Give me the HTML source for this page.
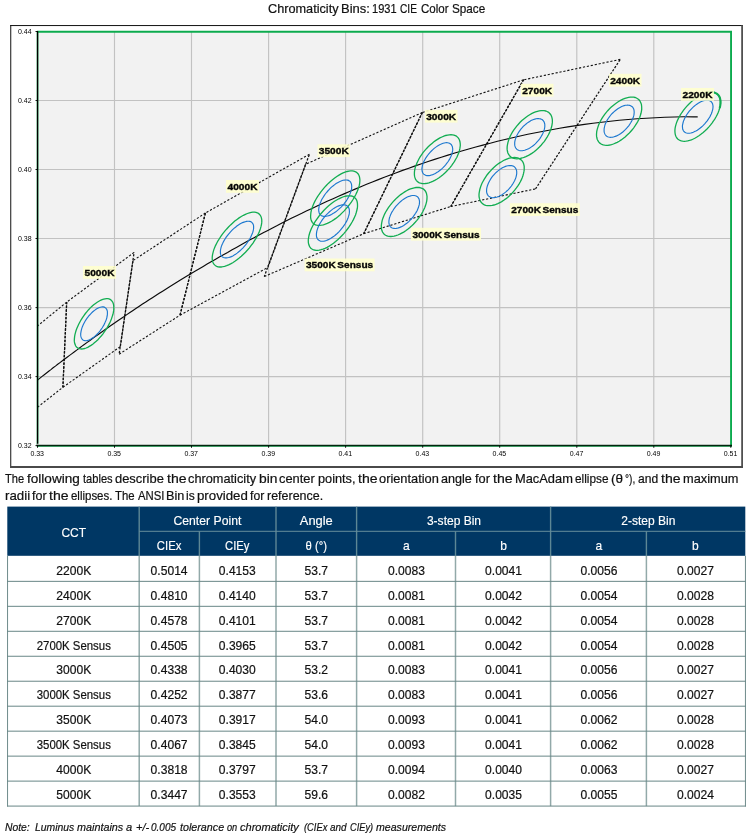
<!DOCTYPE html>
<html><head><meta charset="utf-8"><title>Chromaticity Bins</title>
<style>
html,body{margin:0;padding:0;background:#fff}
body{width:750px;height:834px;position:relative;overflow:hidden;font-family:"Liberation Sans",Arial,sans-serif;color:#1a1a1a}
.t{position:absolute;white-space:nowrap;transform-origin:0 0;display:block;color:#111;-webkit-text-stroke:0.2px #111}
.title{left:0;top:1px;width:750px;height:16px;font-size:12.4px;line-height:16px}
.t span{position:absolute;top:0;transform-origin:0 0;display:block}
.p1{left:0;top:470.6px;width:750px;height:17px;font-size:12.4px;line-height:17px}
.p2{left:0;top:488.4px;width:750px;height:17px;font-size:12.4px;line-height:17px}
.note{left:0;top:819.3px;width:750px;height:16px;font-size:11.4px;line-height:16px;font-style:italic}
.c{position:absolute;text-align:center;white-space:nowrap;font-size:12.4px}
.c.h{color:#fff;transform:scaleX(0.97);-webkit-text-stroke:0.15px #fff}
.c.b{color:#111;-webkit-text-stroke:0.2px #111;transform:scaleX(0.975)}
.c.s{transform:scaleX(0.92)}
.hbg{position:absolute;background:#003764}
.hv{position:absolute;width:1.5px;background:#55808f}
.hh{position:absolute;height:1px;background:#5f8795}
.bv{position:absolute;width:1.5px;background:#8fa7a7}
.bo{position:absolute;width:1px;background:#6f8b8b}
.bh{position:absolute;height:1px;background:#6f8b8b}
</style></head><body>
<div class="t title" id="title"><span style="left:268.09px;transform:scaleX(1.025)">Chromaticity</span> <span style="left:341.35px;transform:scaleX(1.047)">Bins:</span> <span style="left:371.73px;transform:scaleX(0.891)">1931</span> <span style="left:400.49px;transform:scaleX(0.820)">CIE</span> <span style="left:420.53px;transform:scaleX(0.931)">Color</span> <span style="left:452.03px;transform:scaleX(0.946)">Space</span></div>
<svg width="750" height="475" viewBox="0 0 750 475" style="position:absolute;left:0;top:0">
<style>
.ax{font:7px "Liberation Sans",Arial,sans-serif;fill:#000}
.lb{font:bold 9.7px "Liberation Sans",Arial,sans-serif;fill:#050505;stroke:#050505;stroke-width:0.35;word-spacing:-1.2px}
.g{stroke:#c2c2c2;stroke-width:1.15}
.d{stroke:#111;stroke-width:1.1;stroke-dasharray:2.2 1.8;fill:none}
.ds{stroke:#111;stroke-width:1.25;stroke-dasharray:2.3 1.5;fill:none}
.e3{stroke:#12ad52;stroke-width:1.3;fill:none}
.e2{stroke:#1c78cf;stroke-width:1.15;fill:none}
</style>
<line x1="10.2" y1="25.55" x2="743" y2="25.55" stroke="#111" stroke-width="1"/>
<line x1="10.75" y1="25.1" x2="10.75" y2="468" stroke="#111" stroke-width="1"/>
<line x1="742.1" y1="25.2" x2="742.1" y2="468" stroke="#505050" stroke-width="1.8"/>
<line x1="10.2" y1="467.05" x2="743" y2="467.05" stroke="#4a4a4a" stroke-width="1.9"/>
<rect x="37.5" y="31.5" width="693.4" height="414.2" fill="#f2f2f2"/>
<line class="g" x1="114.5" y1="31.5" x2="114.5" y2="445.6"/>
<line class="g" x1="191.5" y1="31.5" x2="191.5" y2="445.6"/>
<line class="g" x1="268.6" y1="31.5" x2="268.6" y2="445.6"/>
<line class="g" x1="345.6" y1="31.5" x2="345.6" y2="445.6"/>
<line class="g" x1="422.7" y1="31.5" x2="422.7" y2="445.6"/>
<line class="g" x1="499.7" y1="31.5" x2="499.7" y2="445.6"/>
<line class="g" x1="576.8" y1="31.5" x2="576.8" y2="445.6"/>
<line class="g" x1="653.8" y1="31.5" x2="653.8" y2="445.6"/>
<line class="g" x1="37.5" y1="376.6" x2="730.8" y2="376.6"/>
<line class="g" x1="37.5" y1="307.6" x2="730.8" y2="307.6"/>
<line class="g" x1="37.5" y1="238.5" x2="730.8" y2="238.5"/>
<line class="g" x1="37.5" y1="169.5" x2="730.8" y2="169.5"/>
<line class="g" x1="37.5" y1="100.5" x2="730.8" y2="100.5"/>
<line class="d" x1="620.3" y1="59.4" x2="523.6" y2="79.8"/>
<line class="d" x1="450.8" y1="206.5" x2="535.5" y2="188.9"/>
<line class="ds" x1="523.6" y1="79.8" x2="450.8" y2="206.5"/>
<line class="ds" x1="535.5" y1="188.9" x2="620.3" y2="59.4"/>
<line class="d" x1="523.6" y1="79.8" x2="422.3" y2="112.6"/>
<line class="d" x1="363.7" y1="233.7" x2="450.8" y2="206.5"/>
<line class="ds" x1="422.3" y1="112.6" x2="363.7" y2="233.7"/>
<line class="ds" x1="450.8" y1="206.5" x2="523.6" y2="79.8"/>
<line class="d" x1="422.3" y1="112.6" x2="305.6" y2="164.3"/>
<line class="d" x1="264.3" y1="276.5" x2="363.7" y2="233.7"/>
<line class="ds" x1="305.6" y1="164.3" x2="264.3" y2="276.5"/>
<line class="ds" x1="363.7" y1="233.7" x2="422.3" y2="112.6"/>
<line class="d" x1="309.4" y1="154.3" x2="205.4" y2="213.0"/>
<line class="d" x1="180.0" y1="315.2" x2="267.8" y2="267.5"/>
<line class="ds" x1="205.4" y1="213.0" x2="180.0" y2="315.2"/>
<line class="ds" x1="267.8" y1="267.5" x2="309.4" y2="154.3"/>
<line class="d" x1="205.4" y1="213.0" x2="133.0" y2="260.6"/>
<line class="d" x1="119.1" y1="354.2" x2="180.0" y2="315.2"/>
<line class="ds" x1="133.0" y1="260.6" x2="119.1" y2="354.2"/>
<line class="ds" x1="180.0" y1="315.2" x2="205.4" y2="213.0"/>
<line class="d" x1="134.1" y1="252.4" x2="66.7" y2="302.1"/>
<line class="d" x1="62.9" y1="387.3" x2="120.3" y2="346.6"/>
<line class="ds" x1="66.7" y1="302.1" x2="62.9" y2="387.3"/>
<line class="ds" x1="120.3" y1="346.6" x2="134.1" y2="252.4"/>
<line class="d" x1="66.7" y1="302.1" x2="37.5" y2="326.0"/>
<line class="d" x1="37.5" y1="407.2" x2="62.9" y2="387.3"/>

<line class="ds" x1="62.9" y1="387.3" x2="66.7" y2="302.1"/>
<path d="M37.5 380.1 L37.9 379.8 L40.0 378.1 L42.1 376.4 L44.3 374.7 L46.5 373.0 L48.7 371.3 L50.9 369.6 L53.1 367.8 L55.4 366.1 L57.7 364.3 L60.0 362.6 L62.4 360.8 L64.7 359.0 L67.1 357.2 L69.6 355.4 L72.0 353.6 L74.5 351.7 L77.0 349.9 L79.5 348.0 L82.0 346.1 L84.6 344.3 L87.2 342.4 L89.9 340.5 L92.5 338.5 L95.2 336.6 L97.9 334.7 L100.7 332.7 L103.5 330.8 L106.3 328.8 L109.1 326.8 L112.0 324.8 L114.9 322.8 L117.8 320.7 L120.8 318.7 L123.8 316.7 L126.8 314.6 L129.9 312.5 L133.0 310.4 L136.2 308.3 L139.3 306.2 L142.5 304.1 L145.8 302.0 L149.1 299.8 L152.4 297.7 L155.8 295.5 L159.2 293.3 L162.6 291.2 L166.1 289.0 L169.6 286.7 L173.2 284.5 L176.8 282.3 L180.4 280.0 L184.1 277.8 L187.8 275.5 L191.6 273.3 L195.4 271.0 L199.3 268.7 L203.2 266.4 L207.1 264.1 L211.1 261.7 L215.2 259.4 L219.3 257.1 L223.4 254.7 L227.6 252.4 L232.1 249.8 L236.4 247.4 L240.7 245.0 L245.1 242.6 L249.6 240.1 L254.1 237.7 L258.6 235.3 L263.2 232.8 L267.8 230.4 L272.5 227.9 L277.3 225.5 L282.0 223.0 L286.9 220.6 L291.8 218.1 L296.7 215.7 L301.8 213.3 L306.8 210.8 L312.0 208.4 L317.1 206.0 L322.4 203.5 L327.7 201.1 L333.1 198.7 L338.5 196.3 L344.0 193.9 L349.5 191.5 L355.1 189.1 L360.8 186.7 L366.6 184.3 L372.4 182.0 L378.3 179.6 L384.3 177.3 L390.3 175.0 L396.4 172.7 L402.6 170.4 L408.8 168.2 L415.2 165.9 L421.6 163.7 L428.1 161.5 L434.6 159.4 L441.3 157.2 L448.0 155.1 L454.8 153.0 L461.7 151.0 L468.7 149.0 L475.8 147.0 L482.9 145.1 L490.2 143.2 L497.5 141.3 L504.9 139.5 L512.5 137.7 L520.1 136.0 L527.8 134.3 L535.6 132.7 L543.5 131.2 L551.5 129.7 L559.6 128.3 L567.8 126.9 L576.1 125.6 L584.5 124.4 L593.0 123.2 L601.6 122.2 L610.4 121.2 L619.2 120.3 L628.1 119.5 L637.2 118.8 L646.3 118.2 L655.5 117.7 L664.9 117.3 L674.4 117.0 L683.9 116.8 L693.6 116.8 L697.7 116.8" fill="none" stroke="#0a0a0a" stroke-width="1.15"/>
<path d="M719.8 107.5 L720.0 106.7 L720.2 105.9 L720.3 105.2 L720.4 104.4 L720.5 103.7 L720.5 103.0 L720.5 102.3 L720.5 101.6 L720.5 100.9 L720.4 100.3 L720.3 99.6 L720.2 99.0 L720.0 98.5 L719.9 97.9 L719.6 97.3 L719.4 96.8 L719.2 96.3 L718.9 95.9 L718.6 95.4 L718.2 95.0 L717.9 94.6 L717.5 94.3 L717.1 93.9 L716.6 93.6 L716.2 93.4 L715.7 93.1 L715.2 92.9 L714.7 92.7 L714.1 92.5 L713.6 92.4 L713.0 92.3 L712.4 92.2 L711.8 92.2 L711.1 92.2 L710.5 92.2 L709.8 92.2 L709.1 92.3 L708.4 92.4 L707.7 92.5 L707.0 92.7 L706.3 92.9" fill="none" stroke="#12ad52" stroke-width="2.1" stroke-linecap="round"/>
<path class="e3" d="M716.6 93.6 L715.5 93.0 L714.1 92.5 L712.7 92.2 L711.1 92.2 L709.5 92.3 L707.7 92.5 L705.9 93.0 L704.0 93.6 L702.1 94.5 L700.1 95.5 L698.1 96.6 L696.2 97.9 L694.2 99.4 L692.2 100.9 L690.3 102.7 L688.5 104.5 L686.7 106.4 L685.0 108.3 L683.4 110.4 L681.9 112.5 L680.5 114.6 L679.3 116.7 L678.2 118.9 L677.2 121.0 L676.4 123.1 L675.8 125.1 L675.3 127.1 L675.0 129.0 L674.9 130.8 L675.0 132.5 L675.2 134.1 L675.6 135.5 L676.1 136.8 L676.9 138.0 L677.7 139.0 L678.8 139.8 L680.0 140.4 L681.3 140.9 L682.7 141.2 L684.3 141.3 L685.9 141.2 L687.7 140.9 L689.5 140.4 L691.4 139.8 L693.3 139.0 L695.3 138.0 L697.3 136.8 L699.3 135.5 L701.2 134.1 L703.2 132.5 L705.1 130.8 L707.0 129.0 L708.7 127.1 L710.4 125.1 L712.0 123.1 L713.5 121.0 L714.9 118.8 L716.1 116.7 L717.2 114.6 L718.2 112.4 L719.0 110.3 L719.6 108.3 L720.1 106.3 L720.4 104.4 L720.5 102.6 L720.5 100.9 L720.2 99.3 L719.9 97.9 L719.3 96.6 L718.6 95.4 L717.7 94.4Z"/>
<path class="e2" d="M710.5 101.1 L709.7 100.7 L708.8 100.4 L707.9 100.2 L706.8 100.2 L705.7 100.3 L704.6 100.5 L703.4 100.8 L702.1 101.2 L700.8 101.8 L699.5 102.5 L698.2 103.3 L696.8 104.2 L695.5 105.1 L694.2 106.2 L692.9 107.4 L691.7 108.6 L690.5 109.9 L689.3 111.2 L688.2 112.6 L687.2 114.0 L686.3 115.4 L685.5 116.9 L684.7 118.3 L684.1 119.7 L683.5 121.1 L683.1 122.5 L682.8 123.8 L682.5 125.1 L682.4 126.3 L682.5 127.4 L682.6 128.5 L682.8 129.5 L683.2 130.3 L683.7 131.1 L684.3 131.8 L684.9 132.3 L685.7 132.7 L686.6 133.0 L687.5 133.2 L688.6 133.2 L689.7 133.2 L690.8 133.0 L692.1 132.6 L693.3 132.2 L694.6 131.6 L695.9 131.0 L697.3 130.2 L698.6 129.3 L699.9 128.3 L701.2 127.2 L702.5 126.1 L703.7 124.9 L704.9 123.6 L706.1 122.2 L707.2 120.9 L708.2 119.4 L709.1 118.0 L710.0 116.6 L710.7 115.1 L711.4 113.7 L711.9 112.3 L712.3 110.9 L712.7 109.6 L712.9 108.3 L713.0 107.1 L713.0 106.0 L712.8 104.9 L712.6 104.0 L712.2 103.1 L711.7 102.3 L711.2 101.7Z"/>
<path class="e3" d="M637.6 98.7 L636.4 98.0 L635.1 97.5 L633.6 97.2 L632.0 97.1 L630.4 97.2 L628.6 97.4 L626.8 97.8 L624.9 98.4 L623.0 99.2 L621.0 100.1 L619.0 101.3 L617.1 102.5 L615.1 103.9 L613.2 105.4 L611.3 107.1 L609.5 108.8 L607.7 110.7 L606.1 112.6 L604.5 114.6 L603.1 116.7 L601.8 118.7 L600.6 120.8 L599.5 122.9 L598.6 125.0 L597.9 127.1 L597.3 129.1 L596.8 131.1 L596.6 132.9 L596.5 134.7 L596.6 136.4 L596.9 138.0 L597.3 139.4 L597.9 140.7 L598.7 141.9 L599.6 142.9 L600.7 143.7 L601.9 144.4 L603.2 144.9 L604.7 145.2 L606.2 145.3 L607.9 145.3 L609.7 145.0 L611.5 144.6 L613.4 144.0 L615.3 143.2 L617.2 142.3 L619.2 141.2 L621.2 139.9 L623.1 138.5 L625.1 137.0 L626.9 135.3 L628.8 133.6 L630.5 131.7 L632.2 129.8 L633.7 127.8 L635.2 125.7 L636.5 123.7 L637.7 121.6 L638.8 119.5 L639.7 117.4 L640.4 115.3 L641.0 113.3 L641.4 111.3 L641.7 109.5 L641.7 107.7 L641.6 106.0 L641.4 104.4 L640.9 103.0 L640.3 101.7 L639.6 100.5 L638.7 99.5Z"/>
<path class="e2" d="M631.4 106.2 L630.6 105.7 L629.7 105.4 L628.8 105.2 L627.7 105.1 L626.6 105.2 L625.4 105.3 L624.2 105.6 L623.0 106.0 L621.7 106.5 L620.4 107.2 L619.1 107.9 L617.8 108.7 L616.5 109.7 L615.2 110.7 L613.9 111.8 L612.7 113.0 L611.5 114.2 L610.4 115.5 L609.4 116.8 L608.4 118.2 L607.5 119.6 L606.7 121.0 L606.0 122.4 L605.4 123.8 L604.9 125.1 L604.6 126.5 L604.3 127.8 L604.1 129.0 L604.1 130.2 L604.1 131.4 L604.3 132.4 L604.6 133.4 L605.0 134.2 L605.5 135.0 L606.1 135.7 L606.8 136.2 L607.6 136.7 L608.5 137.0 L609.5 137.2 L610.5 137.3 L611.6 137.2 L612.8 137.1 L614.0 136.8 L615.3 136.4 L616.6 135.9 L617.9 135.2 L619.2 134.5 L620.5 133.7 L621.8 132.7 L623.1 131.7 L624.3 130.6 L625.6 129.4 L626.7 128.2 L627.8 126.9 L628.9 125.6 L629.8 124.2 L630.7 122.8 L631.5 121.4 L632.2 120.0 L632.8 118.6 L633.3 117.3 L633.7 115.9 L634.0 114.6 L634.1 113.4 L634.2 112.2 L634.1 111.1 L634.0 110.0 L633.7 109.0 L633.3 108.2 L632.8 107.4 L632.2 106.7Z"/>
<path class="e3" d="M548.2 112.1 L547.0 111.5 L545.7 111.0 L544.2 110.7 L542.7 110.6 L541.0 110.6 L539.2 110.9 L537.4 111.3 L535.5 111.9 L533.6 112.7 L531.6 113.6 L529.7 114.7 L527.7 116.0 L525.7 117.4 L523.8 118.9 L521.9 120.5 L520.1 122.3 L518.4 124.2 L516.7 126.1 L515.2 128.1 L513.7 130.1 L512.4 132.2 L511.2 134.3 L510.1 136.4 L509.2 138.5 L508.5 140.6 L507.9 142.6 L507.5 144.5 L507.2 146.4 L507.1 148.2 L507.2 149.9 L507.5 151.5 L507.9 152.9 L508.5 154.2 L509.3 155.4 L510.2 156.4 L511.3 157.2 L512.5 157.9 L513.8 158.3 L515.3 158.6 L516.9 158.8 L518.5 158.7 L520.3 158.5 L522.1 158.0 L524.0 157.4 L525.9 156.7 L527.9 155.7 L529.8 154.6 L531.8 153.4 L533.8 152.0 L535.7 150.4 L537.6 148.8 L539.4 147.0 L541.1 145.2 L542.8 143.2 L544.4 141.3 L545.8 139.2 L547.1 137.1 L548.3 135.0 L549.4 132.9 L550.3 130.8 L551.0 128.8 L551.6 126.8 L552.0 124.8 L552.3 122.9 L552.4 121.1 L552.3 119.4 L552.0 117.9 L551.6 116.4 L551.0 115.1 L550.2 114.0 L549.3 113.0Z"/>
<path class="e2" d="M542.1 119.6 L541.3 119.2 L540.4 118.9 L539.4 118.7 L538.4 118.6 L537.2 118.6 L536.1 118.8 L534.9 119.1 L533.6 119.5 L532.3 120.0 L531.0 120.6 L529.7 121.4 L528.4 122.2 L527.1 123.1 L525.8 124.2 L524.6 125.3 L523.3 126.4 L522.2 127.7 L521.1 128.9 L520.0 130.3 L519.1 131.6 L518.2 133.0 L517.4 134.4 L516.7 135.8 L516.1 137.2 L515.6 138.6 L515.2 139.9 L514.9 141.2 L514.7 142.5 L514.7 143.7 L514.7 144.8 L514.9 145.9 L515.2 146.8 L515.6 147.7 L516.1 148.5 L516.7 149.1 L517.4 149.7 L518.2 150.1 L519.1 150.5 L520.1 150.7 L521.2 150.7 L522.3 150.7 L523.4 150.5 L524.7 150.3 L525.9 149.8 L527.2 149.3 L528.5 148.7 L529.8 148.0 L531.1 147.1 L532.4 146.2 L533.7 145.2 L535.0 144.1 L536.2 142.9 L537.3 141.7 L538.5 140.4 L539.5 139.1 L540.5 137.7 L541.3 136.3 L542.1 134.9 L542.8 133.5 L543.4 132.1 L543.9 130.7 L544.3 129.4 L544.6 128.1 L544.8 126.8 L544.8 125.6 L544.8 124.5 L544.6 123.5 L544.3 122.5 L543.9 121.6 L543.4 120.9 L542.8 120.2Z"/>
<path class="e3" d="M520.1 159.1 L518.9 158.4 L517.6 157.9 L516.1 157.6 L514.5 157.5 L512.9 157.6 L511.1 157.8 L509.3 158.2 L507.4 158.8 L505.5 159.6 L503.5 160.5 L501.6 161.7 L499.6 162.9 L497.6 164.3 L495.7 165.8 L493.8 167.5 L492.0 169.2 L490.3 171.1 L488.6 173.0 L487.0 175.0 L485.6 177.1 L484.3 179.1 L483.1 181.2 L482.0 183.3 L481.1 185.4 L480.4 187.5 L479.8 189.5 L479.4 191.5 L479.1 193.3 L479.0 195.1 L479.1 196.8 L479.4 198.4 L479.8 199.8 L480.4 201.1 L481.2 202.3 L482.1 203.3 L483.2 204.1 L484.4 204.8 L485.7 205.3 L487.2 205.6 L488.7 205.7 L490.4 205.6 L492.2 205.4 L494.0 205.0 L495.9 204.4 L497.8 203.6 L499.8 202.7 L501.7 201.6 L503.7 200.3 L505.7 198.9 L507.6 197.4 L509.5 195.7 L511.3 194.0 L513.0 192.1 L514.7 190.2 L516.2 188.2 L517.7 186.1 L519.0 184.1 L520.2 182.0 L521.3 179.9 L522.2 177.8 L522.9 175.7 L523.5 173.7 L523.9 171.7 L524.2 169.9 L524.2 168.1 L524.2 166.4 L523.9 164.8 L523.5 163.4 L522.9 162.1 L522.1 160.9 L521.2 159.9Z"/>
<path class="e2" d="M514.0 166.6 L513.1 166.1 L512.3 165.8 L511.3 165.6 L510.2 165.5 L509.1 165.6 L508.0 165.7 L506.7 166.0 L505.5 166.4 L504.2 166.9 L502.9 167.6 L501.6 168.3 L500.3 169.1 L499.0 170.1 L497.7 171.1 L496.4 172.2 L495.2 173.4 L494.1 174.6 L492.9 175.9 L491.9 177.2 L490.9 178.6 L490.1 180.0 L489.3 181.4 L488.6 182.8 L488.0 184.2 L487.5 185.5 L487.1 186.9 L486.8 188.2 L486.6 189.4 L486.6 190.6 L486.6 191.8 L486.8 192.8 L487.1 193.8 L487.5 194.6 L488.0 195.4 L488.6 196.1 L489.3 196.6 L490.1 197.1 L491.0 197.4 L492.0 197.6 L493.0 197.7 L494.2 197.6 L495.3 197.5 L496.5 197.2 L497.8 196.8 L499.1 196.3 L500.4 195.6 L501.7 194.9 L503.0 194.1 L504.3 193.1 L505.6 192.1 L506.8 191.0 L508.1 189.8 L509.2 188.6 L510.3 187.3 L511.4 186.0 L512.3 184.6 L513.2 183.2 L514.0 181.8 L514.7 180.4 L515.3 179.0 L515.8 177.7 L516.2 176.3 L516.5 175.0 L516.7 173.8 L516.7 172.6 L516.7 171.5 L516.5 170.4 L516.2 169.4 L515.8 168.6 L515.3 167.8 L514.7 167.1Z"/>
<path class="e3" d="M456.5 136.2 L455.3 135.6 L454.0 135.1 L452.5 134.8 L451.0 134.7 L449.3 134.8 L447.6 135.1 L445.7 135.5 L443.9 136.1 L441.9 137.0 L439.9 137.9 L437.9 139.1 L435.9 140.4 L433.9 141.8 L432.0 143.4 L430.1 145.0 L428.2 146.8 L426.4 148.7 L424.7 150.7 L423.0 152.7 L421.5 154.8 L420.1 156.9 L418.9 159.0 L417.8 161.2 L416.8 163.3 L416.0 165.4 L415.3 167.4 L414.8 169.4 L414.5 171.3 L414.4 173.1 L414.4 174.8 L414.6 176.4 L415.0 177.8 L415.5 179.1 L416.3 180.3 L417.1 181.3 L418.2 182.1 L419.3 182.8 L420.6 183.2 L422.1 183.5 L423.6 183.6 L425.3 183.5 L427.0 183.3 L428.9 182.8 L430.8 182.2 L432.7 181.4 L434.7 180.4 L436.7 179.3 L438.7 178.0 L440.7 176.5 L442.6 175.0 L444.6 173.3 L446.4 171.5 L448.2 169.6 L450.0 167.6 L451.6 165.6 L453.1 163.5 L454.5 161.4 L455.7 159.3 L456.9 157.2 L457.8 155.0 L458.7 153.0 L459.3 150.9 L459.8 148.9 L460.1 147.0 L460.3 145.2 L460.2 143.5 L460.0 142.0 L459.6 140.5 L459.1 139.2 L458.4 138.1 L457.5 137.1Z"/>
<path class="e2" d="M450.2 143.7 L449.5 143.3 L448.6 143.0 L447.6 142.8 L446.6 142.7 L445.5 142.8 L444.3 143.0 L443.1 143.3 L441.9 143.7 L440.6 144.3 L439.2 144.9 L437.9 145.7 L436.6 146.6 L435.2 147.6 L433.9 148.6 L432.6 149.8 L431.4 151.0 L430.1 152.3 L429.0 153.6 L427.9 155.0 L426.9 156.4 L425.9 157.8 L425.1 159.2 L424.3 160.7 L423.6 162.1 L423.1 163.5 L422.6 164.8 L422.3 166.2 L422.1 167.4 L421.9 168.6 L422.0 169.8 L422.1 170.8 L422.3 171.8 L422.7 172.7 L423.1 173.4 L423.7 174.1 L424.4 174.6 L425.2 175.1 L426.0 175.4 L427.0 175.6 L428.0 175.6 L429.1 175.6 L430.3 175.4 L431.5 175.0 L432.8 174.6 L434.1 174.1 L435.4 173.4 L436.7 172.6 L438.1 171.7 L439.4 170.8 L440.7 169.7 L442.0 168.6 L443.3 167.4 L444.5 166.1 L445.6 164.8 L446.7 163.4 L447.8 162.0 L448.7 160.6 L449.6 159.1 L450.3 157.7 L451.0 156.3 L451.5 154.9 L452.0 153.5 L452.3 152.2 L452.6 150.9 L452.7 149.7 L452.7 148.6 L452.5 147.5 L452.3 146.5 L451.9 145.7 L451.5 144.9 L450.9 144.2Z"/>
<path class="e3" d="M423.2 188.9 L422.0 188.3 L420.7 187.8 L419.2 187.5 L417.7 187.4 L416.0 187.5 L414.3 187.8 L412.4 188.3 L410.5 188.9 L408.6 189.7 L406.6 190.7 L404.7 191.9 L402.7 193.2 L400.7 194.6 L398.7 196.2 L396.8 197.9 L395.0 199.7 L393.2 201.6 L391.5 203.6 L389.9 205.6 L388.4 207.7 L387.0 209.8 L385.7 212.0 L384.6 214.1 L383.7 216.2 L382.9 218.3 L382.2 220.4 L381.8 222.3 L381.5 224.2 L381.3 226.0 L381.4 227.7 L381.6 229.3 L382.0 230.8 L382.6 232.1 L383.3 233.2 L384.2 234.2 L385.2 235.0 L386.4 235.7 L387.7 236.1 L389.1 236.4 L390.7 236.5 L392.4 236.4 L394.1 236.1 L395.9 235.7 L397.8 235.0 L399.8 234.2 L401.7 233.2 L403.7 232.1 L405.7 230.8 L407.7 229.3 L409.6 227.8 L411.5 226.1 L413.4 224.2 L415.2 222.3 L416.9 220.4 L418.5 218.3 L420.0 216.2 L421.4 214.1 L422.6 212.0 L423.7 209.8 L424.7 207.7 L425.5 205.6 L426.1 203.6 L426.6 201.6 L426.9 199.7 L427.0 197.9 L427.0 196.2 L426.7 194.6 L426.4 193.2 L425.8 191.9 L425.1 190.7 L424.2 189.7Z"/>
<path class="e2" d="M417.0 196.4 L416.2 196.0 L415.3 195.7 L414.4 195.5 L413.3 195.5 L412.2 195.5 L411.1 195.7 L409.9 196.1 L408.6 196.5 L407.3 197.1 L406.0 197.7 L404.7 198.5 L403.3 199.4 L402.0 200.4 L400.7 201.5 L399.4 202.6 L398.2 203.8 L397.0 205.1 L395.8 206.4 L394.7 207.8 L393.7 209.2 L392.8 210.7 L391.9 212.1 L391.2 213.5 L390.5 215.0 L390.0 216.4 L389.5 217.7 L389.2 219.1 L389.0 220.3 L388.9 221.5 L388.9 222.7 L389.0 223.7 L389.3 224.7 L389.6 225.6 L390.1 226.3 L390.7 227.0 L391.4 227.5 L392.2 228.0 L393.0 228.3 L394.0 228.4 L395.0 228.5 L396.1 228.4 L397.3 228.2 L398.5 227.9 L399.8 227.4 L401.0 226.9 L402.4 226.2 L403.7 225.4 L405.0 224.5 L406.4 223.6 L407.7 222.5 L409.0 221.3 L410.2 220.1 L411.4 218.8 L412.6 217.5 L413.6 216.1 L414.6 214.7 L415.6 213.3 L416.4 211.9 L417.2 210.4 L417.8 209.0 L418.4 207.6 L418.8 206.2 L419.2 204.9 L419.4 203.6 L419.5 202.4 L419.5 201.3 L419.3 200.2 L419.1 199.2 L418.7 198.4 L418.2 197.6 L417.7 197.0Z"/>
<path class="e3" d="M356.3 172.2 L355.1 171.6 L353.7 171.2 L352.3 170.9 L350.6 170.9 L348.9 171.1 L347.1 171.5 L345.1 172.1 L343.1 172.9 L341.1 173.9 L339.0 175.1 L336.8 176.5 L334.7 178.0 L332.5 179.7 L330.4 181.5 L328.3 183.4 L326.3 185.5 L324.3 187.6 L322.5 189.9 L320.7 192.1 L319.0 194.5 L317.4 196.9 L316.0 199.2 L314.7 201.6 L313.6 203.9 L312.7 206.3 L311.9 208.5 L311.3 210.6 L310.9 212.7 L310.7 214.7 L310.6 216.5 L310.7 218.2 L311.1 219.7 L311.6 221.1 L312.3 222.3 L313.1 223.3 L314.2 224.1 L315.4 224.8 L316.7 225.2 L318.2 225.4 L319.8 225.4 L321.5 225.2 L323.4 224.8 L325.3 224.2 L327.3 223.4 L329.4 222.4 L331.5 221.2 L333.6 219.9 L335.8 218.4 L337.9 216.7 L340.0 214.9 L342.1 212.9 L344.2 210.9 L346.1 208.7 L348.0 206.5 L349.8 204.2 L351.5 201.9 L353.0 199.5 L354.4 197.1 L355.7 194.7 L356.8 192.4 L357.8 190.1 L358.6 187.8 L359.2 185.7 L359.6 183.6 L359.8 181.7 L359.9 179.8 L359.7 178.2 L359.4 176.6 L358.9 175.2 L358.2 174.0 L357.3 173.0Z"/>
<path class="e2" d="M349.3 180.9 L348.5 180.4 L347.5 180.1 L346.5 180.0 L345.4 180.0 L344.3 180.1 L343.0 180.3 L341.7 180.7 L340.4 181.3 L339.0 181.9 L337.6 182.7 L336.1 183.6 L334.7 184.6 L333.3 185.7 L331.8 186.9 L330.4 188.2 L329.1 189.6 L327.8 191.0 L326.5 192.5 L325.3 194.0 L324.2 195.6 L323.2 197.2 L322.2 198.8 L321.4 200.3 L320.7 201.9 L320.0 203.4 L319.5 204.9 L319.1 206.4 L318.9 207.8 L318.7 209.1 L318.7 210.3 L318.8 211.5 L319.1 212.5 L319.4 213.4 L319.9 214.2 L320.5 214.9 L321.2 215.5 L322.0 215.9 L322.9 216.2 L323.9 216.4 L325.0 216.4 L326.2 216.3 L327.4 216.0 L328.7 215.6 L330.1 215.1 L331.5 214.4 L332.9 213.6 L334.3 212.8 L335.8 211.7 L337.2 210.6 L338.6 209.4 L340.0 208.1 L341.4 206.8 L342.7 205.3 L344.0 203.8 L345.1 202.3 L346.3 200.8 L347.3 199.2 L348.2 197.6 L349.1 196.0 L349.8 194.4 L350.4 192.9 L350.9 191.4 L351.3 189.9 L351.6 188.6 L351.7 187.2 L351.7 186.0 L351.6 184.9 L351.4 183.8 L351.0 182.9 L350.6 182.1 L350.0 181.4Z"/>
<path class="e3" d="M354.0 197.1 L352.8 196.4 L351.4 196.0 L349.9 195.8 L348.3 195.8 L346.6 196.0 L344.8 196.4 L342.8 197.0 L340.8 197.8 L338.8 198.8 L336.7 200.0 L334.5 201.3 L332.4 202.8 L330.2 204.5 L328.1 206.3 L326.0 208.3 L324.0 210.3 L322.0 212.5 L320.1 214.7 L318.4 217.0 L316.7 219.3 L315.1 221.7 L313.7 224.1 L312.4 226.5 L311.3 228.8 L310.4 231.1 L309.6 233.3 L309.0 235.5 L308.6 237.6 L308.3 239.5 L308.3 241.3 L308.4 243.0 L308.8 244.6 L309.3 245.9 L310.0 247.1 L310.8 248.2 L311.9 249.0 L313.1 249.6 L314.4 250.0 L315.9 250.3 L317.5 250.3 L319.2 250.1 L321.1 249.7 L323.0 249.1 L325.0 248.3 L327.1 247.3 L329.2 246.1 L331.3 244.7 L333.5 243.2 L335.6 241.5 L337.7 239.7 L339.8 237.8 L341.8 235.7 L343.8 233.6 L345.7 231.3 L347.5 229.0 L349.2 226.7 L350.7 224.3 L352.1 222.0 L353.4 219.6 L354.5 217.2 L355.5 214.9 L356.2 212.7 L356.8 210.5 L357.3 208.5 L357.5 206.5 L357.5 204.7 L357.4 203.0 L357.1 201.5 L356.6 200.1 L355.9 198.9 L355.0 197.9Z"/>
<path class="e2" d="M347.0 205.7 L346.1 205.3 L345.2 205.0 L344.2 204.8 L343.1 204.8 L342.0 204.9 L340.7 205.2 L339.4 205.6 L338.1 206.1 L336.7 206.8 L335.3 207.5 L333.8 208.4 L332.4 209.4 L330.9 210.6 L329.5 211.8 L328.1 213.1 L326.8 214.4 L325.4 215.9 L324.2 217.3 L323.0 218.9 L321.9 220.4 L320.9 222.0 L319.9 223.6 L319.1 225.2 L318.3 226.8 L317.7 228.3 L317.2 229.8 L316.8 231.2 L316.6 232.6 L316.4 233.9 L316.4 235.2 L316.5 236.3 L316.7 237.3 L317.1 238.3 L317.6 239.1 L318.2 239.8 L318.9 240.3 L319.7 240.8 L320.6 241.1 L321.6 241.2 L322.7 241.2 L323.9 241.1 L325.1 240.9 L326.4 240.5 L327.8 239.9 L329.2 239.3 L330.6 238.5 L332.0 237.6 L333.5 236.6 L334.9 235.5 L336.3 234.3 L337.7 233.0 L339.1 231.6 L340.4 230.2 L341.6 228.7 L342.8 227.2 L343.9 225.6 L345.0 224.0 L345.9 222.4 L346.8 220.9 L347.5 219.3 L348.1 217.7 L348.6 216.2 L349.0 214.8 L349.3 213.4 L349.4 212.1 L349.4 210.9 L349.3 209.7 L349.1 208.7 L348.7 207.8 L348.3 207.0 L347.7 206.3Z"/>
<path class="e3" d="M258.4 213.4 L257.3 212.8 L256.0 212.4 L254.5 212.2 L252.9 212.2 L251.2 212.4 L249.4 212.9 L247.4 213.5 L245.4 214.3 L243.4 215.3 L241.3 216.5 L239.1 217.9 L237.0 219.4 L234.8 221.1 L232.7 223.0 L230.6 224.9 L228.5 227.0 L226.5 229.2 L224.6 231.4 L222.8 233.7 L221.0 236.1 L219.5 238.5 L218.0 240.8 L216.7 243.2 L215.5 245.6 L214.5 247.9 L213.7 250.1 L213.1 252.3 L212.6 254.4 L212.3 256.3 L212.2 258.1 L212.3 259.8 L212.6 261.4 L213.1 262.7 L213.7 263.9 L214.6 264.9 L215.6 265.7 L216.7 266.3 L218.0 266.8 L219.5 267.0 L221.1 267.0 L222.8 266.7 L224.6 266.3 L226.6 265.7 L228.6 264.9 L230.6 263.9 L232.7 262.7 L234.9 261.3 L237.0 259.7 L239.2 258.0 L241.3 256.2 L243.4 254.2 L245.5 252.2 L247.5 250.0 L249.4 247.8 L251.2 245.4 L253.0 243.1 L254.5 240.7 L256.0 238.3 L257.3 235.9 L258.5 233.6 L259.5 231.3 L260.3 229.0 L260.9 226.9 L261.4 224.8 L261.7 222.9 L261.8 221.0 L261.7 219.3 L261.4 217.8 L260.9 216.4 L260.3 215.3 L259.4 214.3Z"/>
<path class="e2" d="M251.4 222.1 L250.6 221.6 L249.7 221.4 L248.7 221.2 L247.6 221.2 L246.5 221.4 L245.3 221.7 L244.0 222.1 L242.6 222.6 L241.2 223.3 L239.8 224.1 L238.4 225.0 L236.9 226.0 L235.5 227.2 L234.0 228.4 L232.6 229.7 L231.2 231.1 L229.9 232.6 L228.6 234.1 L227.4 235.6 L226.2 237.2 L225.2 238.8 L224.2 240.4 L223.3 242.0 L222.6 243.6 L221.9 245.1 L221.3 246.6 L220.9 248.1 L220.6 249.5 L220.4 250.8 L220.4 252.0 L220.4 253.1 L220.6 254.2 L221.0 255.1 L221.4 255.9 L222.0 256.6 L222.6 257.1 L223.4 257.5 L224.3 257.8 L225.3 257.9 L226.4 257.9 L227.5 257.8 L228.7 257.5 L230.0 257.1 L231.4 256.6 L232.8 255.9 L234.2 255.1 L235.6 254.2 L237.1 253.1 L238.5 252.0 L240.0 250.8 L241.4 249.4 L242.8 248.1 L244.1 246.6 L245.4 245.1 L246.6 243.6 L247.7 242.0 L248.8 240.4 L249.8 238.8 L250.7 237.2 L251.4 235.6 L252.1 234.1 L252.7 232.5 L253.1 231.1 L253.4 229.7 L253.6 228.4 L253.6 227.2 L253.6 226.0 L253.4 225.0 L253.0 224.1 L252.6 223.3 L252.0 222.6Z"/>
<path class="e3" d="M110.1 299.4 L109.0 298.9 L107.8 298.7 L106.5 298.6 L105.1 298.8 L103.7 299.1 L102.1 299.6 L100.5 300.3 L98.9 301.2 L97.2 302.2 L95.5 303.4 L93.7 304.8 L92.0 306.3 L90.3 307.9 L88.6 309.7 L87.0 311.6 L85.4 313.5 L83.9 315.6 L82.5 317.7 L81.1 319.8 L79.9 322.0 L78.7 324.2 L77.7 326.4 L76.8 328.6 L76.0 330.7 L75.4 332.8 L74.9 334.8 L74.6 336.7 L74.4 338.6 L74.3 340.3 L74.4 341.9 L74.7 343.3 L75.1 344.6 L75.6 345.8 L76.3 346.8 L77.1 347.6 L78.1 348.2 L79.2 348.6 L80.4 348.9 L81.7 349.0 L83.0 348.8 L84.5 348.5 L86.1 348.0 L87.7 347.3 L89.3 346.4 L91.0 345.4 L92.7 344.2 L94.4 342.8 L96.2 341.3 L97.9 339.7 L99.5 337.9 L101.2 336.0 L102.8 334.1 L104.3 332.0 L105.7 329.9 L107.1 327.8 L108.3 325.6 L109.5 323.4 L110.5 321.2 L111.4 319.0 L112.1 316.9 L112.8 314.8 L113.3 312.8 L113.6 310.9 L113.8 309.0 L113.8 307.3 L113.7 305.7 L113.5 304.3 L113.1 303.0 L112.5 301.8 L111.8 300.8 L111.0 300.0Z"/>
<path class="e2" d="M104.8 307.4 L104.1 307.1 L103.3 306.9 L102.4 306.9 L101.4 307.0 L100.4 307.2 L99.4 307.5 L98.3 308.0 L97.2 308.6 L96.0 309.3 L94.9 310.1 L93.7 311.0 L92.5 312.0 L91.4 313.1 L90.3 314.3 L89.2 315.5 L88.1 316.8 L87.1 318.2 L86.1 319.6 L85.2 321.0 L84.4 322.5 L83.6 324.0 L82.9 325.5 L82.3 326.9 L81.8 328.4 L81.4 329.8 L81.1 331.1 L80.9 332.4 L80.7 333.6 L80.7 334.8 L80.8 335.9 L81.0 336.9 L81.3 337.7 L81.7 338.5 L82.1 339.2 L82.7 339.7 L83.4 340.2 L84.1 340.5 L84.9 340.6 L85.8 340.7 L86.7 340.6 L87.7 340.4 L88.8 340.1 L89.9 339.6 L91.0 339.0 L92.1 338.3 L93.3 337.5 L94.5 336.6 L95.6 335.6 L96.8 334.5 L97.9 333.3 L99.0 332.1 L100.1 330.8 L101.1 329.4 L102.1 328.0 L103.0 326.5 L103.8 325.1 L104.6 323.6 L105.2 322.1 L105.8 320.7 L106.4 319.2 L106.8 317.8 L107.1 316.5 L107.3 315.2 L107.4 314.0 L107.4 312.8 L107.4 311.7 L107.2 310.7 L106.9 309.8 L106.5 309.1 L106.0 308.4 L105.5 307.9Z"/>
<line x1="37" y1="31.8" x2="732" y2="31.8" stroke="#0cab4e" stroke-width="1.9"/>
<line x1="731.05" y1="31" x2="731.05" y2="446.5" stroke="#0cab4e" stroke-width="1.9"/>
<line x1="37.6" y1="30.9" x2="37.6" y2="446.6" stroke="#0cab4e" stroke-opacity="0.45" stroke-width="2.5"/>
<line x1="37.55" y1="30.9" x2="37.55" y2="446.2" stroke="#000" stroke-width="1.3"/>
<line x1="36.9" y1="444.3" x2="730" y2="444.3" stroke="#fafafa" stroke-width="1"/>
<line x1="36.9" y1="446.2" x2="732" y2="446.2" stroke="#0cab4e" stroke-opacity="0.7" stroke-width="1.7"/>
<line x1="36.9" y1="445.5" x2="732" y2="445.5" stroke="#03240e" stroke-width="1.4"/>
<line x1="37.5" y1="445.6" x2="37.5" y2="447.8" stroke="#000" stroke-width="0.9"/>
<text class="ax" x="37.2" y="456" text-anchor="middle">0.33</text>
<line x1="114.5" y1="445.6" x2="114.5" y2="447.8" stroke="#000" stroke-width="0.9"/>
<text class="ax" x="114.2" y="456" text-anchor="middle">0.35</text>
<line x1="191.5" y1="445.6" x2="191.5" y2="447.8" stroke="#000" stroke-width="0.9"/>
<text class="ax" x="191.2" y="456" text-anchor="middle">0.37</text>
<line x1="268.6" y1="445.6" x2="268.6" y2="447.8" stroke="#000" stroke-width="0.9"/>
<text class="ax" x="268.3" y="456" text-anchor="middle">0.39</text>
<line x1="345.6" y1="445.6" x2="345.6" y2="447.8" stroke="#000" stroke-width="0.9"/>
<text class="ax" x="345.3" y="456" text-anchor="middle">0.41</text>
<line x1="422.7" y1="445.6" x2="422.7" y2="447.8" stroke="#000" stroke-width="0.9"/>
<text class="ax" x="422.4" y="456" text-anchor="middle">0.43</text>
<line x1="499.7" y1="445.6" x2="499.7" y2="447.8" stroke="#000" stroke-width="0.9"/>
<text class="ax" x="499.4" y="456" text-anchor="middle">0.45</text>
<line x1="576.8" y1="445.6" x2="576.8" y2="447.8" stroke="#000" stroke-width="0.9"/>
<text class="ax" x="576.5" y="456" text-anchor="middle">0.47</text>
<line x1="653.8" y1="445.6" x2="653.8" y2="447.8" stroke="#000" stroke-width="0.9"/>
<text class="ax" x="653.5" y="456" text-anchor="middle">0.49</text>
<line x1="730.8" y1="445.6" x2="730.8" y2="447.8" stroke="#000" stroke-width="0.9"/>
<text class="ax" x="730.5" y="456" text-anchor="middle">0.51</text>
<line x1="35.5" y1="445.6" x2="37.5" y2="445.6" stroke="#000" stroke-width="0.9"/>
<text class="ax" x="31.6" y="448.1" text-anchor="end">0.32</text>
<line x1="35.5" y1="376.6" x2="37.5" y2="376.6" stroke="#000" stroke-width="0.9"/>
<text class="ax" x="31.6" y="379.1" text-anchor="end">0.34</text>
<line x1="35.5" y1="307.6" x2="37.5" y2="307.6" stroke="#000" stroke-width="0.9"/>
<text class="ax" x="31.6" y="310.1" text-anchor="end">0.36</text>
<line x1="35.5" y1="238.5" x2="37.5" y2="238.5" stroke="#000" stroke-width="0.9"/>
<text class="ax" x="31.6" y="241.0" text-anchor="end">0.38</text>
<line x1="35.5" y1="169.5" x2="37.5" y2="169.5" stroke="#000" stroke-width="0.9"/>
<text class="ax" x="31.6" y="172.0" text-anchor="end">0.40</text>
<line x1="35.5" y1="100.5" x2="37.5" y2="100.5" stroke="#000" stroke-width="0.9"/>
<text class="ax" x="31.6" y="103.0" text-anchor="end">0.42</text>
<line x1="35.5" y1="31.5" x2="37.5" y2="31.5" stroke="#000" stroke-width="0.9"/>
<text class="ax" x="31.6" y="34.0" text-anchor="end">0.44</text>
<rect x="83.0" y="266.0" width="33.0" height="12.8" fill="#ffffcc" fill-opacity="0.88"/>
<text class="lb" x="84.5" y="275.8" textLength="30.0" lengthAdjust="spacingAndGlyphs">5000K</text>
<rect x="226.0" y="180.0" width="33.0" height="12.8" fill="#ffffcc" fill-opacity="0.88"/>
<text class="lb" x="227.5" y="189.8" textLength="30.0" lengthAdjust="spacingAndGlyphs">4000K</text>
<rect x="317.5" y="144.3" width="32.5" height="12.8" fill="#ffffcc" fill-opacity="0.88"/>
<text class="lb" x="318.8" y="154.1" textLength="30.0" lengthAdjust="spacingAndGlyphs">3500K</text>
<rect x="425.0" y="109.8" width="32.5" height="12.8" fill="#ffffcc" fill-opacity="0.88"/>
<text class="lb" x="426.2" y="119.6" textLength="30.0" lengthAdjust="spacingAndGlyphs">3000K</text>
<rect x="521.0" y="83.8" width="32.5" height="12.8" fill="#ffffcc" fill-opacity="0.88"/>
<text class="lb" x="522.2" y="93.6" textLength="30.0" lengthAdjust="spacingAndGlyphs">2700K</text>
<rect x="609.0" y="73.8" width="32.5" height="12.8" fill="#ffffcc" fill-opacity="0.88"/>
<text class="lb" x="610.2" y="83.6" textLength="30.0" lengthAdjust="spacingAndGlyphs">2400K</text>
<rect x="681.0" y="88.0" width="33.0" height="12.8" fill="#ffffcc" fill-opacity="0.88"/>
<text class="lb" x="682.5" y="97.8" textLength="30.0" lengthAdjust="spacingAndGlyphs">2200K</text>
<rect x="304.6" y="258.5" width="70.0" height="12.8" fill="#ffffcc" fill-opacity="0.88"/>
<text class="lb" x="306.0" y="268.3" textLength="67.2" lengthAdjust="spacingAndGlyphs">3500K Sensus</text>
<rect x="411.0" y="227.8" width="70.0" height="12.8" fill="#ffffcc" fill-opacity="0.88"/>
<text class="lb" x="412.4" y="237.6" textLength="67.2" lengthAdjust="spacingAndGlyphs">3000K Sensus</text>
<rect x="509.8" y="203.2" width="70.0" height="12.8" fill="#ffffcc" fill-opacity="0.88"/>
<text class="lb" x="511.2" y="213.0" textLength="67.2" lengthAdjust="spacingAndGlyphs">2700K Sensus</text>
</svg>
<div class="t p1" id="p1"><span style="left:5.48px;transform:scaleX(0.896)">The</span> <span style="left:27.30px;transform:scaleX(1.095)">following</span> <span style="left:82.70px;transform:scaleX(0.895)">tables</span> <span style="left:114.78px;transform:scaleX(1.043)">describe</span> <span style="left:166.70px;transform:scaleX(1.134)">the</span> <span style="left:188.49px;transform:scaleX(1.030)">chromaticity</span> <span style="left:259.17px;transform:scaleX(1.113)">bin</span> <span style="left:279.48px;transform:scaleX(1.037)">center</span> <span style="left:317.53px;transform:scaleX(1.027)">points,</span> <span style="left:358.30px;transform:scaleX(1.134)">the</span> <span style="left:379.08px;transform:scaleX(1.034)">orientation</span> <span style="left:441.19px;transform:scaleX(1.017)">angle</span> <span style="left:475.30px;transform:scaleX(1.032)">for</span> <span style="left:493.30px;transform:scaleX(1.134)">the</span> <span style="left:514.66px;transform:scaleX(1.037)">MacAdam</span> <span style="left:575.22px;transform:scaleX(0.952)">ellipse</span> <span style="left:610.88px;transform:scaleX(1.087)">(θ</span> <span style="left:624.59px;transform:scaleX(0.818)">°),</span> <span style="left:637.81px;transform:scaleX(0.974)">and</span> <span style="left:661.00px;transform:scaleX(1.134)">the</span> <span style="left:682.52px;transform:scaleX(1.033)">maximum</span></div>
<div class="t p2" id="p2"><span style="left:4.90px;transform:scaleX(1.073)">radii</span> <span style="left:32.30px;transform:scaleX(1.011)">for</span> <span style="left:49.30px;transform:scaleX(1.134)">the</span> <span style="left:70.54px;transform:scaleX(0.925)">ellipses.</span> <span style="left:114.77px;transform:scaleX(0.916)">The</span> <span style="left:137.70px;transform:scaleX(0.914)">ANSI</span> <span style="left:165.68px;transform:scaleX(1.022)">Bin</span> <span style="left:186.27px;transform:scaleX(0.968)">is</span> <span style="left:196.70px;transform:scaleX(1.070)">provided</span> <span style="left:250.00px;transform:scaleX(0.982)">for</span> <span style="left:266.54px;transform:scaleX(1.007)">reference.</span></div>
<svg width="750" height="320" viewBox="0 500 750 320" style="position:absolute;left:0;top:500px">
<rect x="7.3" y="506.60" width="738" height="49.20" fill="#003764"/>
<line x1="139.20" y1="506.70" x2="139.20" y2="555.80" stroke="#5d8795" stroke-width="1.4"/>
<line x1="199.40" y1="531.30" x2="199.40" y2="555.80" stroke="#5d8795" stroke-width="1.4"/>
<line x1="276.00" y1="506.70" x2="276.00" y2="555.80" stroke="#5d8795" stroke-width="1.4"/>
<line x1="356.60" y1="506.70" x2="356.60" y2="555.80" stroke="#5d8795" stroke-width="1.4"/>
<line x1="455.50" y1="531.30" x2="455.50" y2="555.80" stroke="#5d8795" stroke-width="1.4"/>
<line x1="550.60" y1="506.70" x2="550.60" y2="555.80" stroke="#5d8795" stroke-width="1.4"/>
<line x1="646.40" y1="531.30" x2="646.40" y2="555.80" stroke="#5d8795" stroke-width="1.4"/>
<line x1="139.20" y1="531.30" x2="745.30" y2="531.30" stroke="#668e9b" stroke-width="1"/>
<line x1="139.20" y1="555.80" x2="139.20" y2="806.08" stroke="#92a9a9" stroke-width="1.5"/>
<line x1="199.40" y1="555.80" x2="199.40" y2="806.08" stroke="#92a9a9" stroke-width="1.5"/>
<line x1="276.00" y1="555.80" x2="276.00" y2="806.08" stroke="#92a9a9" stroke-width="1.5"/>
<line x1="356.60" y1="555.80" x2="356.60" y2="806.08" stroke="#92a9a9" stroke-width="1.5"/>
<line x1="455.50" y1="555.80" x2="455.50" y2="806.08" stroke="#92a9a9" stroke-width="1.5"/>
<line x1="550.60" y1="555.80" x2="550.60" y2="806.08" stroke="#92a9a9" stroke-width="1.5"/>
<line x1="646.40" y1="555.80" x2="646.40" y2="806.08" stroke="#92a9a9" stroke-width="1.5"/>
<line x1="7.55" y1="555.80" x2="7.55" y2="806.58" stroke="#6f8b8b" stroke-width="1"/>
<line x1="745.45" y1="555.80" x2="745.45" y2="806.58" stroke="#6f8b8b" stroke-width="1"/>
<line x1="7.1" y1="581.35" x2="745.9" y2="581.35" stroke="#688686" stroke-width="1"/>
<line x1="7.1" y1="606.32" x2="745.9" y2="606.32" stroke="#688686" stroke-width="1"/>
<line x1="7.1" y1="631.29" x2="745.9" y2="631.29" stroke="#688686" stroke-width="1"/>
<line x1="7.1" y1="656.26" x2="745.9" y2="656.26" stroke="#688686" stroke-width="1"/>
<line x1="7.1" y1="681.23" x2="745.9" y2="681.23" stroke="#688686" stroke-width="1"/>
<line x1="7.1" y1="706.20" x2="745.9" y2="706.20" stroke="#688686" stroke-width="1"/>
<line x1="7.1" y1="731.17" x2="745.9" y2="731.17" stroke="#688686" stroke-width="1"/>
<line x1="7.1" y1="756.14" x2="745.9" y2="756.14" stroke="#688686" stroke-width="1"/>
<line x1="7.1" y1="781.11" x2="745.9" y2="781.11" stroke="#688686" stroke-width="1"/>
<line x1="7.1" y1="806.08" x2="745.9" y2="806.08" stroke="#688686" stroke-width="1"/>
</svg>
<div class="c h" style="left:7.6px;top:509.4px;width:131.6px;height:49.4px;line-height:49.4px">CCT</div>
<div class="c h" style="left:139.2px;top:509.4px;width:136.8px;height:24.6px;line-height:24.6px;transform:scaleX(0.985)">Center Point</div>
<div class="c h" style="left:276.0px;top:509.4px;width:80.6px;height:24.6px;line-height:24.6px;transform:scaleX(1.04)">Angle</div>
<div class="c h" style="left:356.6px;top:509.4px;width:194.0px;height:24.6px;line-height:24.6px">3-step Bin</div>
<div class="c h" style="left:550.6px;top:509.4px;width:194.7px;height:24.6px;line-height:24.6px">2-step Bin</div>
<div class="c h" style="left:139.2px;top:534.0px;width:60.2px;height:24.8px;line-height:24.8px;transform:scaleX(0.91)">CIEx</div>
<div class="c h" style="left:199.4px;top:534.0px;width:76.6px;height:24.8px;line-height:24.8px;transform:scaleX(0.91)">CIEy</div>
<div class="c h" style="left:276.0px;top:534.0px;width:80.6px;height:24.8px;line-height:24.8px;transform:scaleX(0.91)">θ (°)</div>
<div class="c h" style="left:356.6px;top:534.0px;width:98.9px;height:24.8px;line-height:24.8px">a</div>
<div class="c h" style="left:455.5px;top:534.0px;width:95.1px;height:24.8px;line-height:24.8px">b</div>
<div class="c h" style="left:550.6px;top:534.0px;width:95.8px;height:24.8px;line-height:24.8px">a</div>
<div class="c h" style="left:646.4px;top:534.0px;width:98.9px;height:24.8px;line-height:24.8px">b</div>
<div class="c b" style="left:7.6px;top:558.8px;width:131.6px;height:25.0px;line-height:25.0px">2200K</div>
<div class="c b" style="left:139.2px;top:558.8px;width:60.2px;height:25.0px;line-height:25.0px">0.5014</div>
<div class="c b" style="left:199.4px;top:558.8px;width:76.6px;height:25.0px;line-height:25.0px">0.4153</div>
<div class="c b" style="left:276.0px;top:558.8px;width:80.6px;height:25.0px;line-height:25.0px">53.7</div>
<div class="c b" style="left:356.6px;top:558.8px;width:98.9px;height:25.0px;line-height:25.0px">0.0083</div>
<div class="c b" style="left:455.5px;top:558.8px;width:95.1px;height:25.0px;line-height:25.0px">0.0041</div>
<div class="c b" style="left:550.6px;top:558.8px;width:95.8px;height:25.0px;line-height:25.0px">0.0056</div>
<div class="c b" style="left:646.4px;top:558.8px;width:98.9px;height:25.0px;line-height:25.0px">0.0027</div>
<div class="c b" style="left:7.6px;top:583.7px;width:131.6px;height:25.0px;line-height:25.0px">2400K</div>
<div class="c b" style="left:139.2px;top:583.7px;width:60.2px;height:25.0px;line-height:25.0px">0.4810</div>
<div class="c b" style="left:199.4px;top:583.7px;width:76.6px;height:25.0px;line-height:25.0px">0.4140</div>
<div class="c b" style="left:276.0px;top:583.7px;width:80.6px;height:25.0px;line-height:25.0px">53.7</div>
<div class="c b" style="left:356.6px;top:583.7px;width:98.9px;height:25.0px;line-height:25.0px">0.0081</div>
<div class="c b" style="left:455.5px;top:583.7px;width:95.1px;height:25.0px;line-height:25.0px">0.0042</div>
<div class="c b" style="left:550.6px;top:583.7px;width:95.8px;height:25.0px;line-height:25.0px">0.0054</div>
<div class="c b" style="left:646.4px;top:583.7px;width:98.9px;height:25.0px;line-height:25.0px">0.0028</div>
<div class="c b" style="left:7.6px;top:608.6px;width:131.6px;height:25.0px;line-height:25.0px">2700K</div>
<div class="c b" style="left:139.2px;top:608.6px;width:60.2px;height:25.0px;line-height:25.0px">0.4578</div>
<div class="c b" style="left:199.4px;top:608.6px;width:76.6px;height:25.0px;line-height:25.0px">0.4101</div>
<div class="c b" style="left:276.0px;top:608.6px;width:80.6px;height:25.0px;line-height:25.0px">53.7</div>
<div class="c b" style="left:356.6px;top:608.6px;width:98.9px;height:25.0px;line-height:25.0px">0.0081</div>
<div class="c b" style="left:455.5px;top:608.6px;width:95.1px;height:25.0px;line-height:25.0px">0.0042</div>
<div class="c b" style="left:550.6px;top:608.6px;width:95.8px;height:25.0px;line-height:25.0px">0.0054</div>
<div class="c b" style="left:646.4px;top:608.6px;width:98.9px;height:25.0px;line-height:25.0px">0.0028</div>
<div class="c b s" style="left:7.6px;top:633.5px;width:131.6px;height:25.0px;line-height:25.0px">2700K Sensus</div>
<div class="c b" style="left:139.2px;top:633.5px;width:60.2px;height:25.0px;line-height:25.0px">0.4505</div>
<div class="c b" style="left:199.4px;top:633.5px;width:76.6px;height:25.0px;line-height:25.0px">0.3965</div>
<div class="c b" style="left:276.0px;top:633.5px;width:80.6px;height:25.0px;line-height:25.0px">53.7</div>
<div class="c b" style="left:356.6px;top:633.5px;width:98.9px;height:25.0px;line-height:25.0px">0.0081</div>
<div class="c b" style="left:455.5px;top:633.5px;width:95.1px;height:25.0px;line-height:25.0px">0.0042</div>
<div class="c b" style="left:550.6px;top:633.5px;width:95.8px;height:25.0px;line-height:25.0px">0.0054</div>
<div class="c b" style="left:646.4px;top:633.5px;width:98.9px;height:25.0px;line-height:25.0px">0.0028</div>
<div class="c b" style="left:7.6px;top:658.4px;width:131.6px;height:25.0px;line-height:25.0px">3000K</div>
<div class="c b" style="left:139.2px;top:658.4px;width:60.2px;height:25.0px;line-height:25.0px">0.4338</div>
<div class="c b" style="left:199.4px;top:658.4px;width:76.6px;height:25.0px;line-height:25.0px">0.4030</div>
<div class="c b" style="left:276.0px;top:658.4px;width:80.6px;height:25.0px;line-height:25.0px">53.2</div>
<div class="c b" style="left:356.6px;top:658.4px;width:98.9px;height:25.0px;line-height:25.0px">0.0083</div>
<div class="c b" style="left:455.5px;top:658.4px;width:95.1px;height:25.0px;line-height:25.0px">0.0041</div>
<div class="c b" style="left:550.6px;top:658.4px;width:95.8px;height:25.0px;line-height:25.0px">0.0056</div>
<div class="c b" style="left:646.4px;top:658.4px;width:98.9px;height:25.0px;line-height:25.0px">0.0027</div>
<div class="c b s" style="left:7.6px;top:683.3px;width:131.6px;height:25.0px;line-height:25.0px">3000K Sensus</div>
<div class="c b" style="left:139.2px;top:683.3px;width:60.2px;height:25.0px;line-height:25.0px">0.4252</div>
<div class="c b" style="left:199.4px;top:683.3px;width:76.6px;height:25.0px;line-height:25.0px">0.3877</div>
<div class="c b" style="left:276.0px;top:683.3px;width:80.6px;height:25.0px;line-height:25.0px">53.6</div>
<div class="c b" style="left:356.6px;top:683.3px;width:98.9px;height:25.0px;line-height:25.0px">0.0083</div>
<div class="c b" style="left:455.5px;top:683.3px;width:95.1px;height:25.0px;line-height:25.0px">0.0041</div>
<div class="c b" style="left:550.6px;top:683.3px;width:95.8px;height:25.0px;line-height:25.0px">0.0056</div>
<div class="c b" style="left:646.4px;top:683.3px;width:98.9px;height:25.0px;line-height:25.0px">0.0027</div>
<div class="c b" style="left:7.6px;top:708.2px;width:131.6px;height:25.0px;line-height:25.0px">3500K</div>
<div class="c b" style="left:139.2px;top:708.2px;width:60.2px;height:25.0px;line-height:25.0px">0.4073</div>
<div class="c b" style="left:199.4px;top:708.2px;width:76.6px;height:25.0px;line-height:25.0px">0.3917</div>
<div class="c b" style="left:276.0px;top:708.2px;width:80.6px;height:25.0px;line-height:25.0px">54.0</div>
<div class="c b" style="left:356.6px;top:708.2px;width:98.9px;height:25.0px;line-height:25.0px">0.0093</div>
<div class="c b" style="left:455.5px;top:708.2px;width:95.1px;height:25.0px;line-height:25.0px">0.0041</div>
<div class="c b" style="left:550.6px;top:708.2px;width:95.8px;height:25.0px;line-height:25.0px">0.0062</div>
<div class="c b" style="left:646.4px;top:708.2px;width:98.9px;height:25.0px;line-height:25.0px">0.0028</div>
<div class="c b s" style="left:7.6px;top:733.1px;width:131.6px;height:25.0px;line-height:25.0px">3500K Sensus</div>
<div class="c b" style="left:139.2px;top:733.1px;width:60.2px;height:25.0px;line-height:25.0px">0.4067</div>
<div class="c b" style="left:199.4px;top:733.1px;width:76.6px;height:25.0px;line-height:25.0px">0.3845</div>
<div class="c b" style="left:276.0px;top:733.1px;width:80.6px;height:25.0px;line-height:25.0px">54.0</div>
<div class="c b" style="left:356.6px;top:733.1px;width:98.9px;height:25.0px;line-height:25.0px">0.0093</div>
<div class="c b" style="left:455.5px;top:733.1px;width:95.1px;height:25.0px;line-height:25.0px">0.0041</div>
<div class="c b" style="left:550.6px;top:733.1px;width:95.8px;height:25.0px;line-height:25.0px">0.0062</div>
<div class="c b" style="left:646.4px;top:733.1px;width:98.9px;height:25.0px;line-height:25.0px">0.0028</div>
<div class="c b" style="left:7.6px;top:758.0px;width:131.6px;height:25.0px;line-height:25.0px">4000K</div>
<div class="c b" style="left:139.2px;top:758.0px;width:60.2px;height:25.0px;line-height:25.0px">0.3818</div>
<div class="c b" style="left:199.4px;top:758.0px;width:76.6px;height:25.0px;line-height:25.0px">0.3797</div>
<div class="c b" style="left:276.0px;top:758.0px;width:80.6px;height:25.0px;line-height:25.0px">53.7</div>
<div class="c b" style="left:356.6px;top:758.0px;width:98.9px;height:25.0px;line-height:25.0px">0.0094</div>
<div class="c b" style="left:455.5px;top:758.0px;width:95.1px;height:25.0px;line-height:25.0px">0.0040</div>
<div class="c b" style="left:550.6px;top:758.0px;width:95.8px;height:25.0px;line-height:25.0px">0.0063</div>
<div class="c b" style="left:646.4px;top:758.0px;width:98.9px;height:25.0px;line-height:25.0px">0.0027</div>
<div class="c b" style="left:7.6px;top:782.9px;width:131.6px;height:25.0px;line-height:25.0px">5000K</div>
<div class="c b" style="left:139.2px;top:782.9px;width:60.2px;height:25.0px;line-height:25.0px">0.3447</div>
<div class="c b" style="left:199.4px;top:782.9px;width:76.6px;height:25.0px;line-height:25.0px">0.3553</div>
<div class="c b" style="left:276.0px;top:782.9px;width:80.6px;height:25.0px;line-height:25.0px">59.6</div>
<div class="c b" style="left:356.6px;top:782.9px;width:98.9px;height:25.0px;line-height:25.0px">0.0082</div>
<div class="c b" style="left:455.5px;top:782.9px;width:95.1px;height:25.0px;line-height:25.0px">0.0035</div>
<div class="c b" style="left:550.6px;top:782.9px;width:95.8px;height:25.0px;line-height:25.0px">0.0055</div>
<div class="c b" style="left:646.4px;top:782.9px;width:98.9px;height:25.0px;line-height:25.0px">0.0024</div>
<div class="t note" id="note"><span style="left:5.47px;transform:scaleX(0.908)">Note:</span> <span style="left:34.77px;transform:scaleX(0.912)">Luminus</span> <span style="left:77.30px;transform:scaleX(0.948)">maintains</span> <span style="left:126.46px;transform:scaleX(0.974)">a</span> <span style="left:136.22px;transform:scaleX(0.969)">+/-</span> <span style="left:151.48px;transform:scaleX(0.877)">0.005</span> <span style="left:179.53px;transform:scaleX(0.941)">tolerance</span> <span style="left:226.80px;transform:scaleX(0.808)">on</span> <span style="left:240.46px;transform:scaleX(0.968)">chromaticity</span> <span style="left:303.59px;transform:scaleX(0.818)">(CIEx</span> <span style="left:329.78px;transform:scaleX(0.868)">and</span> <span style="left:349.59px;transform:scaleX(0.811)">CIEy)</span> <span style="left:376.00px;transform:scaleX(0.930)">measurements</span></div>
</body></html>
